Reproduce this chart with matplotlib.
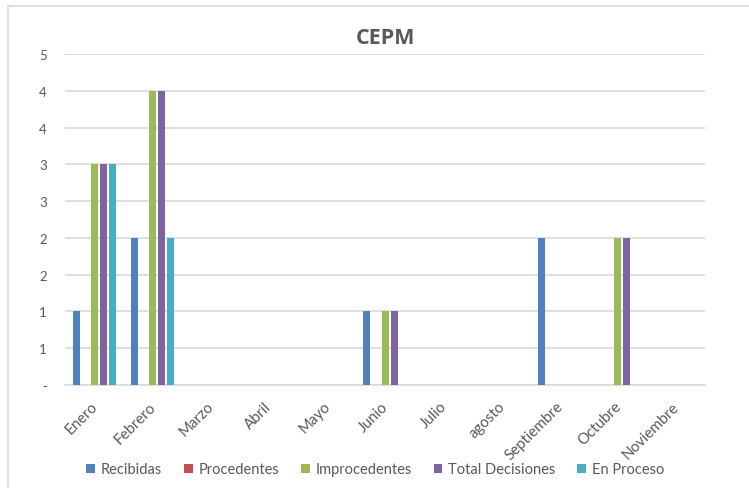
import numpy as np
import matplotlib.pyplot as plt
import matplotlib.transforms as mtransforms
from matplotlib.patches import Rectangle

months = ['Enero', 'Febrero', 'Marzo', 'Abril', 'Mayo', 'Junio', 'Julio',
          'agosto', 'Septiembre', 'Octubre', 'Noviembre']
recibidas = [1, 2, 0, 0, 0, 1, 0, 0, 2, 0, 0]
procedentes = [0, 0, 0, 0, 0, 0, 0, 0, 0, 0, 0]
improcedentes = [3, 4, 0, 0, 0, 1, 0, 0, 0, 2, 0]
total_decisiones = [3, 4, 0, 0, 0, 1, 0, 0, 0, 2, 0]
en_proceso = [3, 2, 0, 0, 0, 0, 0, 0, 0, 0, 0]

series = [('Recibidas', recibidas, '#4F81BD'),
          ('Procedentes', procedentes, '#C0504D'),
          ('Improcedentes', improcedentes, '#9BBB59'),
          ('Total Decisiones', total_decisiones, '#8064A2'),
          ('En Proceso', en_proceso, '#4BACC6')]

plt.rcParams['font.family'] = ['Lato', 'DejaVu Sans']
txt = '#595959'
grid = '#D9D9D9'

fig = plt.figure(figsize=(7.49, 4.89), dpi=100)
ax = fig.add_axes([0.0868, 0.2106, 0.8545, 0.6769])

# chart frame (runs off the right and bottom edge)
fig.patches.append(Rectangle((8 / 749, -0.1), 1.0, 1 - 7 / 489 + 0.1,
                             transform=fig.transFigure, fill=False,
                             edgecolor=grid, linewidth=1.2))

x = np.arange(len(months))
slot = 0.155
for i, (name, vals, col) in enumerate(series):
    ax.bar(x + (i - 2) * slot, vals, width=0.12, color=col, label=name, zorder=3)

ax.set_xlim(-0.5, len(months) - 0.5)
ax.set_ylim(0, 4.5)
yt = np.arange(0, 4.51, 0.5)
ax.set_yticks(yt)
ax.set_yticklabels(['-'] + [str(int(np.floor(v + 0.5))) for v in yt[1:]],
                   color=txt, fontsize=9.5)
ax.set_xticks(x)
ax.set_xticklabels(months, rotation=45, ha='right', va='top',
                   rotation_mode='anchor', color=txt, fontsize=10.8)
ax.tick_params(length=0, pad=10)
ax.tick_params(axis='y', pad=13)
# nudge month labels a little to the left
shift = mtransforms.ScaledTranslation(-4 / 100, 0, fig.dpi_scale_trans)
for lab in ax.get_xticklabels():
    lab.set_transform(lab.get_transform() + shift)
for s in ['top', 'right', 'left']:
    ax.spines[s].set_visible(False)
ax.spines['bottom'].set_color(grid)
ax.spines['bottom'].set_linewidth(1.2)
ax.yaxis.grid(True, color=grid, linewidth=1.2, zorder=0)
ax.set_axisbelow(True)

fig.text(0.514, 0.922, 'CEPM', ha='center', va='center', fontsize=15.5,
         fontweight='bold', color=txt, family=['Open Sans', 'DejaVu Sans'])

fig.legend(loc='center', bbox_to_anchor=(0.501, 0.038), ncol=5, frameon=False,
           fontsize=10.5, labelcolor=txt, handlelength=0.6, handleheight=0.6,
           handletextpad=0.4, columnspacing=1.5)

fig.savefig('out.png', dpi=100)
